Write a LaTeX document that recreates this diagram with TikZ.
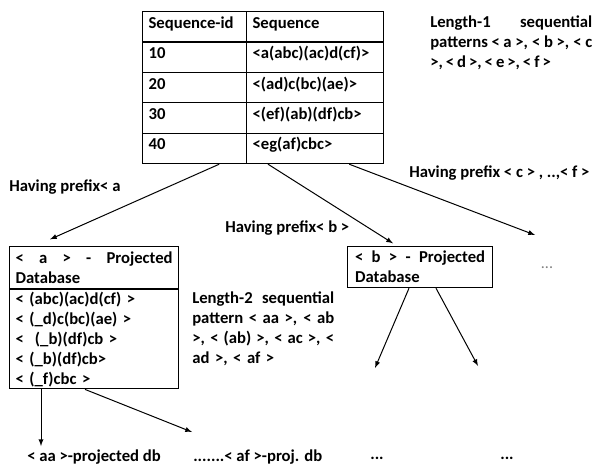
\documentclass[tikz,border=0pt]{standalone}
\usepackage{fontspec}
\setmainfont{Carlito}
\usetikzlibrary{arrows}

% a line spread over the whole text width
\newcommand{\fillline}[2][\fontdimen2\font]{\leavevmode\hbox to\hsize{\spaceskip=#1 plus 1fil\relax#2}}

\tikzset{
  txt/.style={font=\fontsize{12.5}{15}\selectfont\bfseries, inner sep=0pt},
  tight/.style={txt, execute at begin node={\spaceskip=0.18em plus 0.5em\relax}},
  cell/.style={txt, draw, line width=0.9pt, anchor=north west, align=left,
    inner xsep=4.5pt, text height=12.5pt, text depth=10.3pt},
  dbbox/.style={txt, draw, line width=0.9pt, anchor=north west, align=left, inner xsep=4.5pt},
  link/.style={->, >=latex, line width=0.75pt},
}

\begin{document}
\begin{tikzpicture}[x=0.75pt, y=-0.75pt]
\useasboundingbox (0,0) rectangle (598,466);

% sequence database
\foreach \sid/\sq [count=\r from 0] in {Sequence-id/Sequence, 10/{<a(abc)(ac)d(cf)>},
    20/{<(ad)c(bc)(ae)>}, 30/{<(ef)(ab)(df)cb>}, 40/{<eg(af)cbc>}} {
  \node[cell, text width=69pt] (id\r) at (142, 11+30.4*\r) {\sid};
  \node[cell, text width=93.75pt] (sq\r) at (246, 11+30.4*\r) {\sq};
}

\node[tight, anchor=north west, text width=121.5pt, align=left] (len1) at (430,16)
  {\fillline{Length-1 sequential}\\
   \fillline[0.08em]{patterns < a >, < b >, < c}\\
   >, < d >, < e >, < f >};

% prefix labels
\node[txt, anchor=west] (pa) at (9,187) {Having prefix< a};
\node[txt, anchor=west] (pb) at (225,228) {Having prefix< b >};
\node[txt, anchor=west] (pc) at (409,173) {Having prefix < c > , ..,< f >};

% projected databases
\node[dbbox, text width=117.75pt, minimum height=31.5pt] (ahead) at (9,246)
  {\fillline{< a > - Projected}\\Database};
\node[dbbox, text width=117.75pt, minimum height=74.25pt] (arows) at (ahead.south west)
  {< (abc)(ac)d(cf) >\\
   < (\_d)c(bc)(ae) >\\
   < \ (\_b)(df)cb >\\
   < (\_b)(df)cb>\\
   < (\_f)cbc >};
\node[dbbox, text width=97.5pt, inner xsep=5.625pt, minimum height=30.75pt] (bdb) at (347,246)
  {\fillline{< b > - Projected}\\Database};

\node[txt, anchor=north west, text width=106.5pt, align=left] (len2) at (192,292)
  {\fillline{Length-2 sequential}\\
   \fillline{pattern < aa >, < ab}\\
   \fillline[0.18em]{>, < (ab) >, < ac >, <}\\
   ad >, < af >};

\node[txt, anchor=west] (aadb) at (27,457) {< aa >-projected db};
\node[txt, anchor=west] (afdb) at (193,457) {.......< af >-proj. db};
\node[txt] (bdots1) at (377,458) {...};
\node[txt] (bdots2) at (507,458) {...};
\node[txt, font=\fontsize{12}{15}\selectfont, text=gray] (cdots) at (547,268) {...};

\coordinate (ctip) at (535,235);
\coordinate (bltip) at (375,368);
\coordinate (brtip) at (478,366);
\coordinate (aatip) at (41,446);
\coordinate (aftip) at (192,432);

\draw[link] ([xshift=-21pt]id4.south east) -- ([xshift=30.75pt,yshift=5pt]ahead.north west);
\draw[link] ([xshift=16.5pt]sq4.south west) -- ([xshift=34.5pt,yshift=2pt]bdb.north west);
\draw[link] ([xshift=-26.25pt]sq4.south east) -- (ctip);
\draw[link] ([xshift=46.5pt]bdb.south west) -- (bltip);
\draw[link] ([xshift=66.75pt]bdb.south west) -- (brtip);
\draw[link] ([xshift=24pt]arows.south west) -- (aatip);
\draw[link] ([xshift=57pt]arows.south west) -- (aftip);

\end{tikzpicture}
\end{document}
